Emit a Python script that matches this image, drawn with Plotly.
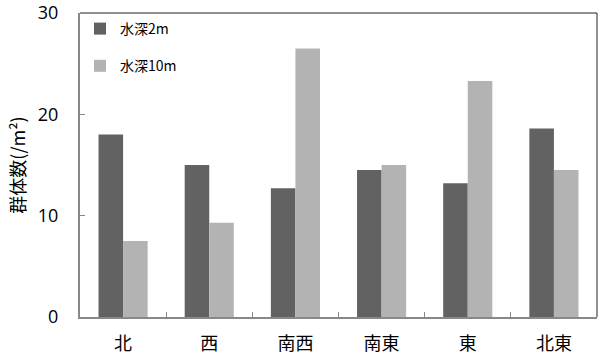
import plotly.graph_objects as go

categories = ["北", "西", "南西", "南東", "東", "北東"]
depth2m = [18.0, 15.0, 12.7, 14.5, 13.2, 18.6]
depth10m = [7.5, 9.3, 26.5, 15.0, 23.3, 14.5]
series_names = ["水深2m", "水深10m"]
y_ticks = [0, 10, 20, 30]

fig = go.Figure()
fig.add_trace(go.Bar(x=categories, y=depth2m, name=series_names[0],
                     marker=dict(color="#626262", line=dict(width=0)),
                     legendgroup="a"))
fig.add_trace(go.Bar(x=categories, y=depth10m, name=series_names[1],
                     marker=dict(color="#b3b3b3", line=dict(width=0)),
                     legendgroup="b"))

fig.update_layout(
    width=604, height=357,
    margin=dict(l=80, r=7, t=13, b=40),
    plot_bgcolor="white", paper_bgcolor="white",
    barmode="group", bargap=0.43, bargroupgap=0,
    font=dict(family="Open Sans, Noto Sans CJK JP", color="black"),
    legend=dict(x=0.0, y=1.0, xanchor="left", yanchor="top",
                traceorder="grouped", tracegroupgap=16,
                font=dict(size=14, family="Noto Sans CJK JP"),
                bgcolor="rgba(0,0,0,0)"),
    xaxis=dict(
        type="category", tickson="boundaries", ticks="inside", ticklen=5,
        tickcolor="#888", tickwidth=1,
        showline=True, linecolor="#888", linewidth=2,
        tickfont=dict(size=18, family="Noto Sans CJK JP"),
        ticklabelstandoff=9, automargin=False,
        range=[-0.5, 5.5], showgrid=False,
    ),
    yaxis=dict(
        range=[0, 30], tickvals=y_ticks, ticks="inside", ticklen=5,
        tickcolor="#888", tickwidth=1,
        showline=True, linecolor="#888", linewidth=2,
        showgrid=False, zeroline=False,
        tickfont=dict(size=18),
        ticklabelstandoff=16, automargin=False,
        title=dict(text="群体数(/m²)", font=dict(size=18, family="Noto Sans CJK JP"),
                   standoff=8),
    ),
)
fig.add_shape(type="line", xref="paper", yref="paper", x0=0, x1=1, y0=1, y1=1,
              line=dict(color="#222", width=1))
fig.add_shape(type="line", xref="paper", yref="paper", x0=1, x1=1, y0=0, y1=1,
              line=dict(color="#222", width=1))

fig.write_html("out.html")
